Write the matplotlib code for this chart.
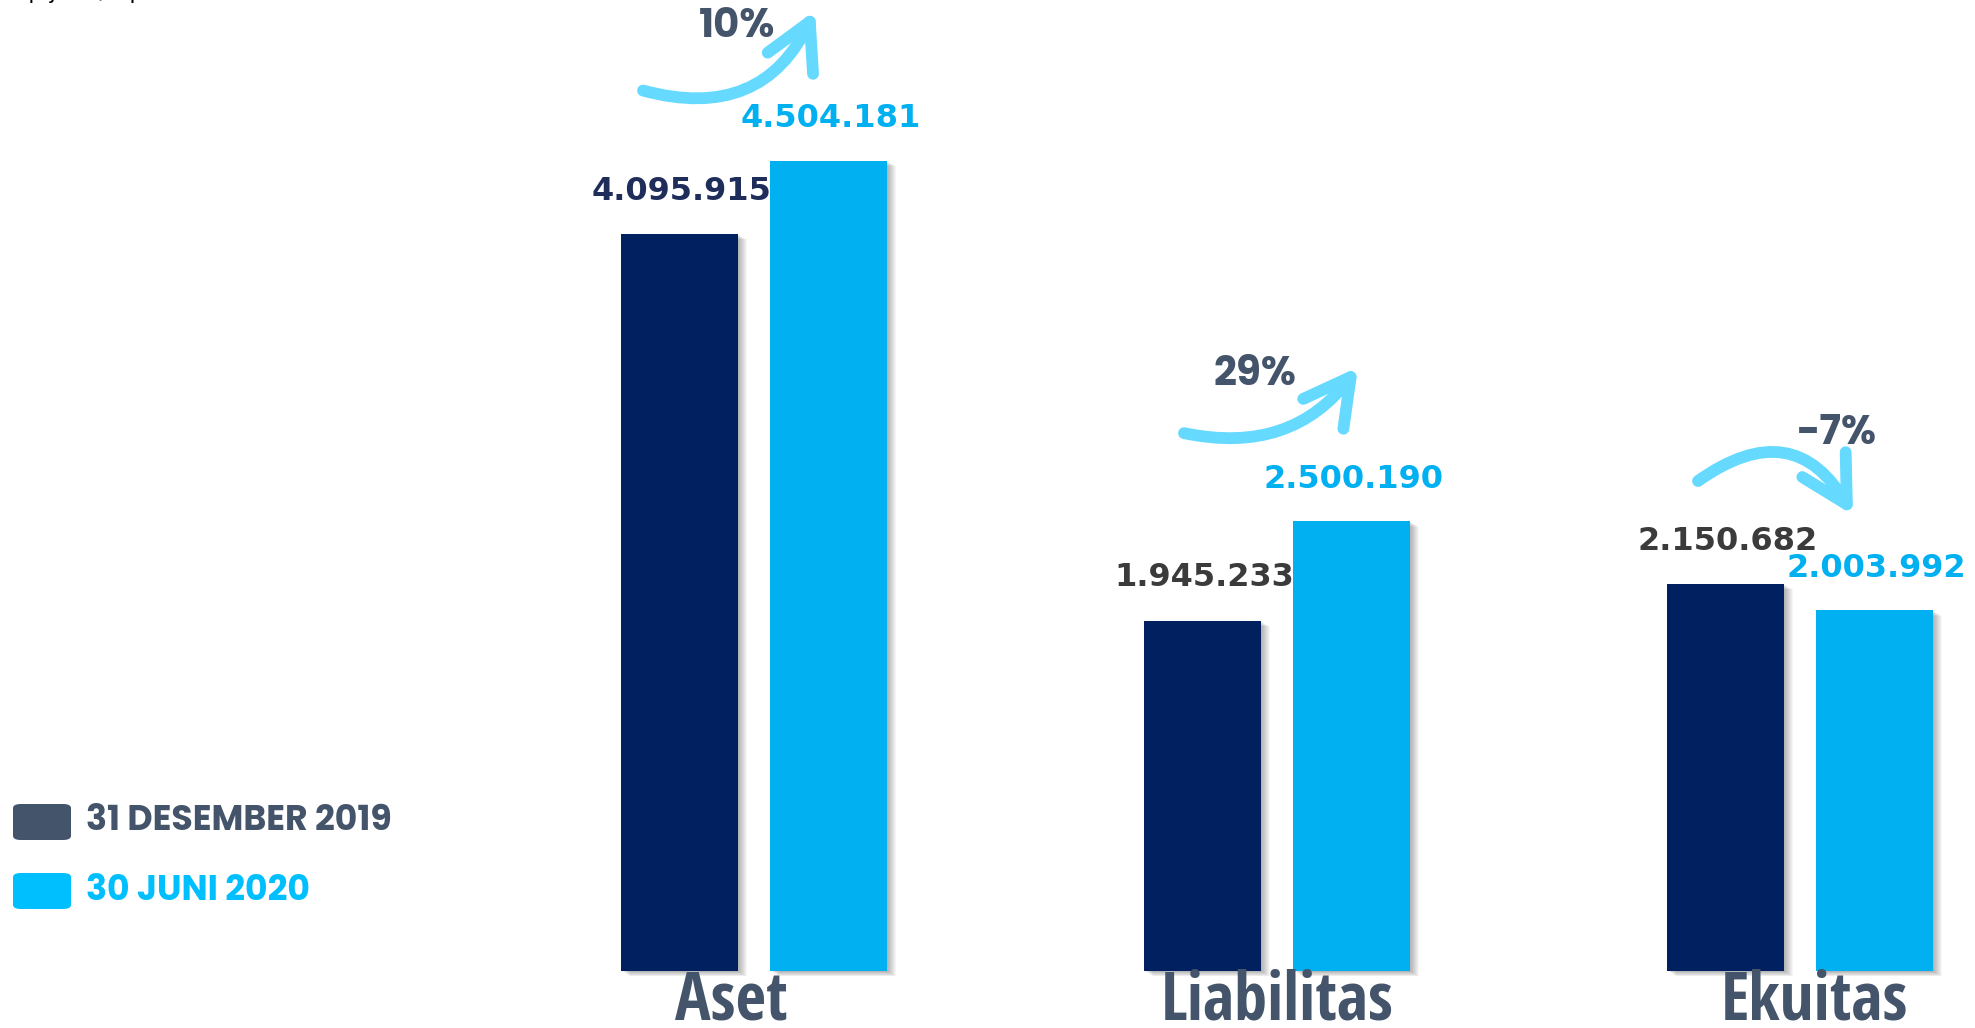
import matplotlib
matplotlib.use('Agg')
import matplotlib.pyplot as plt
from matplotlib.patches import Rectangle, FancyBboxPatch

# ---------------- data ----------------
categories = ['Aset', 'Liabilitas', 'Ekuitas']
values_2019 = [4095915, 1945233, 2150682]
values_2020 = [4504181, 2500190, 2003992]
labels_2019 = ['4.095.915', '1.945.233', '2.150.682']
labels_2020 = ['4.504.181', '2.500.190', '2.003.992']
growth = ['10%', '29%', '-7%']
series_names = ['31 DESEMBER 2019', '30 JUNI 2020']

# ---------------- style ----------------
DARK = '#002060'
LIGHT = '#00b0f0'
SLATE = '#44546a'
LEG_LIGHT = '#00bfff'
ARROW = '#66d9ff'
LBL_DARK = ['#1f2d5a', '#3b3b3b', '#3b3b3b']
GEO = ['Poppins', 'Open Sans', 'DejaVu Sans']
COND = ['Open Sans Condensed', 'IBM Plex Sans Condensed', 'DejaVu Sans']

W, H, DPI = 1975, 1028, 100
fig = plt.figure(figsize=(W / DPI, H / DPI), dpi=DPI)
ax = fig.add_axes([0, 0, 1, 1])
ax.axis('off')

px_per_x = 523.0
x0_px = 754.0
base_px = 57.0
px_per_val = 737.0 / 4095915
ax.set_xlim(-x0_px / px_per_x, (W - x0_px) / px_per_x)
ax.set_ylim(-base_px / px_per_val, (H - base_px) / px_per_val)

bw = 0.224
off = 0.142
dxp = 1.0 / px_per_x
dyp = 1.0 / px_per_val
cat_dx = [-23, 0, 14]

# bars with soft shadows
for i in range(len(categories)):
    for xc, v, col in [(i - off, values_2019[i], DARK), (i + off, values_2020[i], LIGHT)]:
        for k in range(1, 10):
            ax.add_patch(Rectangle((xc - bw / 2 + k * dxp, -k * 0.6 * dyp), bw, v,
                                   facecolor='black', edgecolor='none', alpha=0.035, zorder=1))
    ax.bar([i - off], [values_2019[i]], width=bw, color=DARK, zorder=3)
    ax.bar([i + off], [values_2020[i]], width=bw, color=LIGHT, zorder=3)
    ax.annotate(labels_2019[i], (i - off, values_2019[i]), xytext=(2, 43),
                textcoords='offset pixels', ha='center', va='center',
                fontsize=23, fontweight='bold', color=LBL_DARK[i],
                family='DejaVu Sans', zorder=5)
    ax.annotate(labels_2020[i], (i + off, values_2020[i]), xytext=(2, 42),
                textcoords='offset pixels', ha='center', va='center',
                fontsize=23, fontweight='bold', color=LIGHT,
                family='DejaVu Sans', zorder=5)
    ax.annotate(categories[i], (i, 0), xytext=(cat_dx[i], -31), textcoords='offset pixels',
                ha='center', va='center', fontsize=48, fontweight='bold', color=SLATE,
                family=COND)

# growth arrows (pixel offsets relative to group centre / taller bar top)
arrow_start = [(-111, 70), (-93, 88), (-102, 103)]
arrow_end = [(61, 150), (81, 154), (53, 69)]
text_pos = [(-17, 133), (-22, 146), (37, 150)]
rads = [0.42, 0.32, -0.55]
for i in range(len(categories)):
    top = max(values_2019[i], values_2020[i])
    cx, cy = ax.transData.transform((i, top))
    s = (cx + arrow_start[i][0], cy + arrow_start[i][1])
    e = (cx + arrow_end[i][0], cy + arrow_end[i][1])
    ax.annotate('', xy=e, xytext=s, xycoords='figure pixels', textcoords='figure pixels',
                arrowprops=dict(arrowstyle='->,head_length=1.1,head_width=0.6',
                                connectionstyle='arc3,rad=%f' % rads[i],
                                color=ARROW, lw=8.5, capstyle='round', joinstyle='round',
                                mutation_scale=30, shrinkA=0, shrinkB=0), zorder=6)
    ax.annotate(growth[i], (cx + text_pos[i][0], cy + text_pos[i][1]),
                xycoords='figure pixels', ha='center', va='center', fontsize=29,
                fontweight='bold', color=SLATE, family=GEO, zorder=7)

# legend
leg_cols = [SLATE, LEG_LIGHT]
leg_y = [822, 891]
for j in range(2):
    yc = leg_y[j]
    fig.patches.append(FancyBboxPatch((13 / W, 1 - (yc + 18) / H), 58 / W, 36 / H,
                                      boxstyle='round,pad=0,rounding_size=0.004',
                                      transform=fig.transFigure, facecolor=leg_cols[j],
                                      edgecolor='none'))
    fig.text(86 / W, 1 - yc / H, series_names[j], ha='left', va='center', fontsize=25,
             fontweight='bold', color=leg_cols[j], family=GEO)

# partially cut note at the top
fig.text(13 / W, 1 + 1 / H, 'Rp juta / Rp million', ha='left', va='baseline',
         fontsize=16, color='black')

fig.savefig('out.png', dpi=DPI)
